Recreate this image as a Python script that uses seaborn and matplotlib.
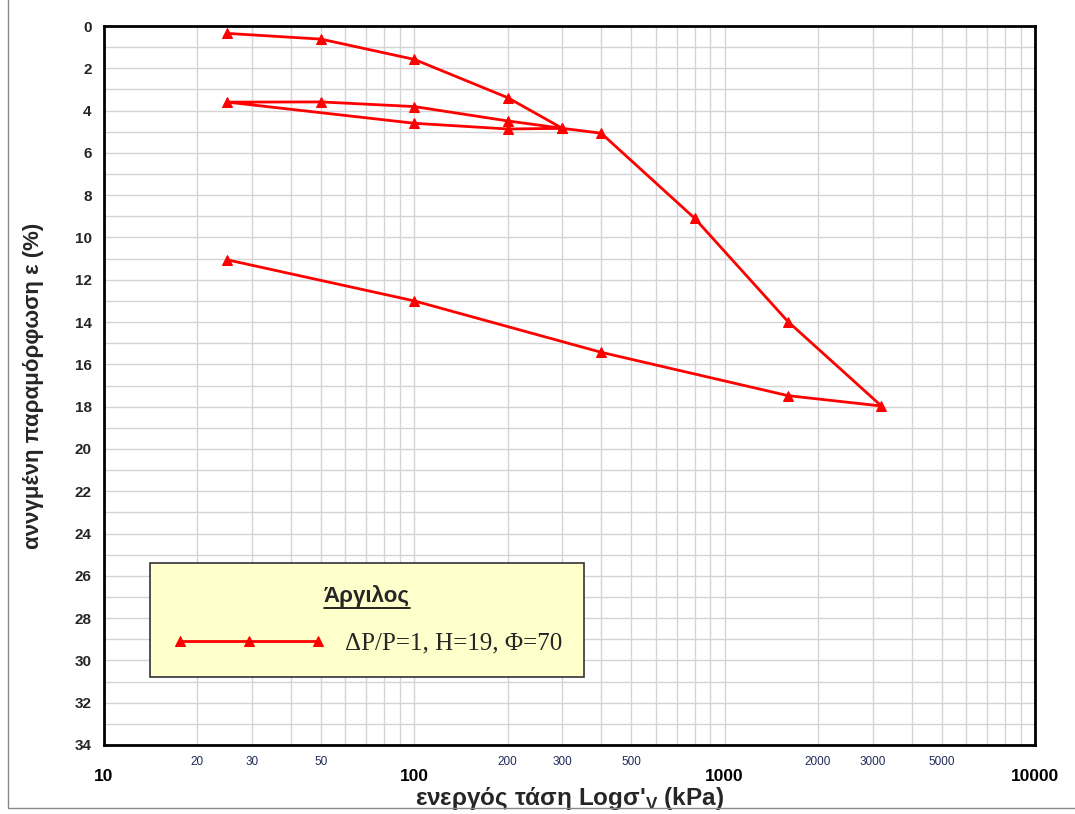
import numpy as np
import pandas as pd
import matplotlib
matplotlib.use("Agg")
import matplotlib.pyplot as plt
import matplotlib.ticker as mticker
from matplotlib.lines import Line2D
from matplotlib.patches import Rectangle
import seaborn as sns

# ---- data ----
stress_kpa = [25, 50, 100, 200, 300, 200, 100, 50, 25, 100, 200, 300, 400,
              800, 1600, 3200, 1600, 400, 100, 25]
strain_pct = [0.35, 0.62, 1.58, 3.39, 4.84, 4.49, 3.81, 3.59, 3.60, 4.60, 4.87,
              4.84, 5.07, 9.09, 13.98, 17.97, 17.48, 15.43, 13.00, 11.06]
series_label = "ΔP/P=1, H=19, Φ=70"
legend_title = "Άργιλος"
x_major = [10, 100, 1000, 10000]
x_minor_labels = [20, 30, 50, 200, 300, 500, 2000, 3000, 5000]
y_ticks = list(range(0, 35, 2))
xlabel = "ενεργός τάση Logσ'$_\\mathregular{V}$ (kPa)"
ylabel = "αννγμένη παραμόρφωση ε (%)"

df = pd.DataFrame({"stress": stress_kpa, "strain": strain_pct})

sns.set_style("white")
plt.rcParams["font.family"] = ["Liberation Sans", "DejaVu Sans"]

fig = plt.figure(figsize=(10.75, 8.14), dpi=100)
ax = fig.add_axes([104/1075, 1-745/814, (1035-104)/1075, (745-26)/814])

sns.lineplot(data=df, x="stress", y="strain", sort=False, estimator=None,
             color="#FF0000", linewidth=2, marker="^", markersize=7,
             markeredgecolor="#FF0000", label=series_label, ax=ax, zorder=3)

ax.set_xscale("log")
ax.set_xlim(10, 10000)
ax.set_ylim(34, 0)

# grid
ax.xaxis.set_major_locator(mticker.FixedLocator(x_major))
ax.xaxis.set_minor_locator(mticker.LogLocator(base=10, subs=np.arange(2, 10), numticks=20))
ax.yaxis.set_major_locator(mticker.FixedLocator(y_ticks))
ax.yaxis.set_minor_locator(mticker.MultipleLocator(1))
ax.grid(True, which="both", color="#D4D4D4", linewidth=1, zorder=0)
ax.set_axisbelow(True)

ax.set_xticklabels([str(v) for v in x_major], fontsize=12.5, fontweight="bold")

def minor_fmt(v, pos):
    iv = int(round(v))
    return str(iv) if iv in x_minor_labels else ""
ax.xaxis.set_minor_formatter(mticker.FuncFormatter(minor_fmt))
ax.tick_params(axis="x", which="minor", labelsize=8.5, length=4, width=1.5,
               direction="out", pad=4, labelcolor="#1F2A5A", color="black")
ax.tick_params(axis="x", which="major", length=10, width=2, direction="out",
               pad=7, labelcolor="black", color="black")
ax.tick_params(axis="y", which="major", length=6, width=1.5, direction="inout",
               labelsize=11, pad=6, color="black")
ax.tick_params(axis="y", which="minor", length=6, width=1.2, direction="inout", color="black")
ax.set_yticks(y_ticks)
ax.set_yticklabels([str(v) for v in y_ticks], fontsize=11, fontweight="bold")

for s in ax.spines.values():
    s.set_visible(True)
    s.set_color("black")
    s.set_linewidth(2)

ax.set_xlabel(xlabel, fontsize=17.5, fontweight="bold", labelpad=1)
ax.set_ylabel(ylabel, fontsize=16, fontweight="bold", labelpad=22)

leg = ax.legend(loc="lower left",
                bbox_to_anchor=((150-104)/931, (745-677)/719, (584-150)/931, 0.1),
                mode="expand", borderaxespad=0, title=legend_title, numpoints=3,
                handlelength=6.1, handletextpad=0.8, borderpad=0.9,
                labelspacing=0.5, fancybox=False, framealpha=1,
                facecolor="#FFFFCC", edgecolor="#333333",
                prop={"family": ["Liberation Serif", "DejaVu Serif"], "size": 18})
leg.get_frame().set_linewidth(1.2)
leg.get_title().set_fontsize(16)
leg.get_title().set_fontweight("bold")
leg._legend_box.sep = 18

# outer chart border
fig.patches.append(Rectangle((8/1075, 6/814), 1.1, 1.1, transform=fig.transFigure,
                             fill=False, edgecolor="#888888", linewidth=1))

fig.canvas.draw()
tb = leg.get_title().get_window_extent(fig.canvas.get_renderer())
inv = fig.transFigure.inverted()
(x0, y0), (x1, y1) = inv.transform([(tb.x0, tb.y0 - 1), (tb.x1, tb.y0 - 1)])
fig.add_artist(Line2D([x0, x1], [y0, y1], transform=fig.transFigure,
                      color="black", linewidth=1.2, zorder=10))

fig.savefig("out.png", dpi=100)
